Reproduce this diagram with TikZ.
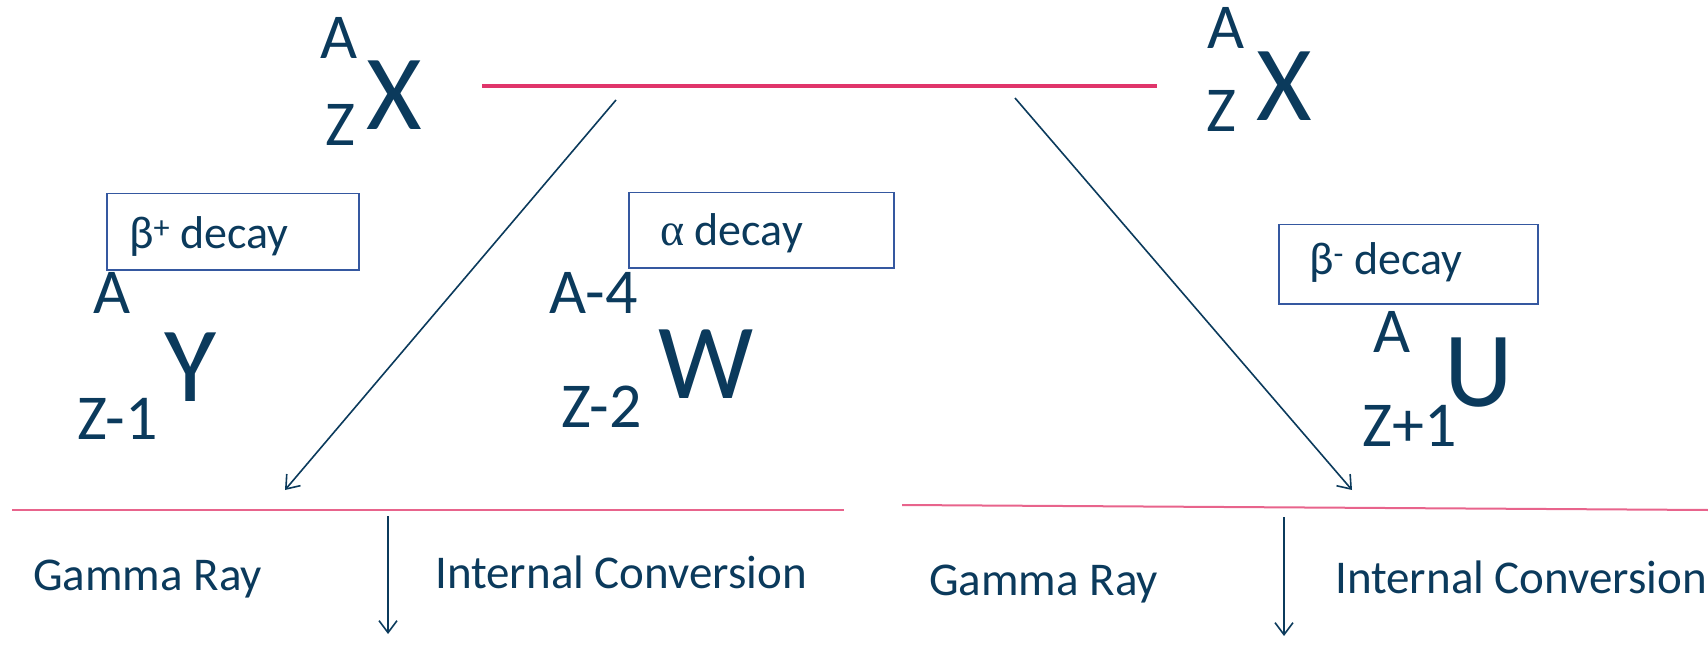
\documentclass[tikz,border=0pt]{standalone}
\usepackage{fontspec}
\setmainfont{Carlito}
\newfontfamily\greekserif{Liberation Serif}
\usepackage{xcolor}
\usetikzlibrary{arrows.meta}
\definecolor{decayred}{HTML}{E0356B}
\definecolor{levelpink}{HTML}{E8648C}
\definecolor{nucnavy}{HTML}{0B3A5C}
\definecolor{boxblue}{HTML}{3558A0}

\tikzset{
  bigsym/.style={anchor=base west,inner sep=0pt,text=nucnavy,font=\fontsize{107}{110}\selectfont},
  nucidx/.style={anchor=base west,inner sep=0pt,text=nucnavy,font=\fontsize{64}{70}\selectfont},
  decaybox/.style={draw=boxblue,line width=1.5pt,anchor=north west,inner sep=0pt},
  boxtext/.style={anchor=base west,inner sep=0pt,text=nucnavy,font=\fontsize{46}{50}\selectfont},
  captext/.style={anchor=base west,inner sep=0pt,text=nucnavy,font=\fontsize{47}{52}\selectfont},
  decayarrow/.style={draw=nucnavy,line width=1.6pt,-{Straight Barb[length=12pt,width=18pt]}},
}

\begin{document}
\begin{tikzpicture}[x=1pt,y=-1pt]
        \useasboundingbox (0,0) rectangle (1708,647);
        \clip (0,0) rectangle (1708,647);

        \node[nucidx] (xlA) at (320,59) {A};
        \node[nucidx] (xlZ) at (325,146) {Z};
        \node[bigsym] (xl) at (366,130) {X};
        \node[nucidx] (xrA) at (1207,49) {A};
        \node[nucidx] (xrZ) at (1206,132) {Z};
        \node[bigsym] (xr) at (1256,121) {X};

        \node[decaybox,minimum width=252pt,minimum height=76pt] (bplus) at (106,193) {};
        \node[boxtext] (bplustxt) at (129,248) {β\textsuperscript{+} decay};
        \node[decaybox,minimum width=265pt,minimum height=75pt] (alpha) at (628,192) {};
        \node[boxtext] (alphatxt) at (660,245) {{\greekserif α} decay};
        \node[decaybox,minimum width=259pt,minimum height=79pt] (bminus) at (1278,224) {};
        \node[boxtext] (bminustxt) at (1309,274) {β\textsuperscript{-} decay};

        \node[nucidx] (yA) at (93,313) {A};
        \node[nucidx] (yZ) at (77,439) {Z-1};
        \node[bigsym] (y) at (164,401) {Y};
        \node[nucidx] (wA) at (549,313) {A-4};
        \node[nucidx] (wZ) at (561,427) {Z-2};
        \node[bigsym] (w) at (658,398) {W};
        \node[nucidx] (uA) at (1373,352) {A};
        \node[nucidx] (uZ) at (1362,446) {Z+1};
        \node[bigsym] (u) at (1444,406) {U};

        \coordinate (topL) at (482,86);
        \coordinate (topR) at (1157,86);
        \coordinate (lowLa) at (12,510);
        \coordinate (lowLb) at (844,510);
        \coordinate (lowRa) at (902,505);
        \coordinate (lowRb) at (1708,510);
        \draw[decayred,line width=4pt] (topL) -- (topR);
        \draw[levelpink,line width=2pt] (lowLa) -- (lowLb);
        \draw[levelpink,line width=2pt] (lowRa) -- (lowRb);

        \coordinate (leftFrom) at (616,100);
        \coordinate (leftTo) at (285,490);
        \coordinate (rightFrom) at (1015,98);
        \coordinate (rightTo) at (1352,490);
        \draw[decayarrow] (leftFrom) -- (leftTo);
        \draw[decayarrow] (rightFrom) -- (rightTo);

        \coordinate (gamLa) at (388,516);
        \coordinate (gamLb) at (388,634);
        \coordinate (gamRa) at (1284,517);
        \coordinate (gamRb) at (1284,636);
        \draw[decayarrow] (gamLa) -- (gamLb);
        \draw[decayarrow] (gamRa) -- (gamRb);

        \node[captext] (gammaL) at (33,590) {Gamma Ray};
        \node[captext] (convL) at (435,588) {Internal Conversion};
        \node[captext] (gammaR) at (929,595) {Gamma Ray};
        \node[captext] (convR) at (1335,593) {Internal Conversion};
      \end{tikzpicture}
\end{document}
